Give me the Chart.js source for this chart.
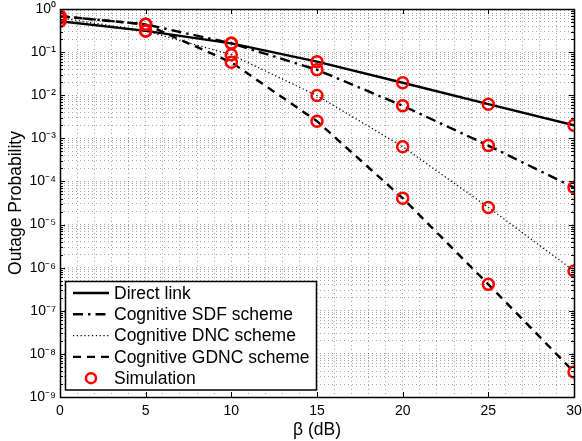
<!DOCTYPE html>
<html>
<head>
<meta charset="utf-8">
<script src="https://cdn.jsdelivr.net/npm/chart.js@4.4.0/dist/chart.umd.min.js"></script>
<style>
  html, body { margin: 0; padding: 0; background: #fff; }
  #wrap { width: 582px; height: 441px; position: relative; }
</style>
</head>
<body>
<div id="wrap"><canvas id="outage-chart" width="582" height="441"></canvas></div>
<script>
// valeurs
const betaDb = [0, 5, 10, 15, 20, 25, 30];
const directLink = [0.52, 0.31, 0.16, 0.06, 0.0195, 0.0062, 0.002];
const cognitiveSdf = [0.68, 0.44, 0.16, 0.039, 0.0057, 6.8e-4, 7.2e-5];
const cognitiveDnc = [0.62, 0.31, 0.087, 0.0098, 6.4e-4, 2.5e-5, 8.4e-7];
const cognitiveGdnc = [0.68, 0.44, 0.058, 0.0025, 4.1e-5, 4.1e-7, 3.8e-9];

const seriesLabels = ['Direct link', 'Cognitive SDF scheme', 'Cognitive DNC scheme', 'Cognitive GDNC scheme', 'Simulation'];
const xTickLabels = [0, 5, 10, 15, 20, 25, 30];
const yTickExponents = [0, -1, -2, -3, -4, -5, -6, -7, -8, -9];

const FONT = "'Liberation Sans', Arial, Helvetica, sans-serif";

const supMap = { '0': '⁰', '1': '¹', '2': '²', '3': '³', '4': '⁴', '5': '⁵', '6': '⁶', '7': '⁷', '8': '⁸', '9': '⁹', '-': '⁻' };
function powLabel(e) {
    return '10' + String(e).split('').map(c => supMap[c]).join('');
}

function toPoints(values) {
    return values.map((v, i) => ({ x: betaDb[i], y: v }));
}

// toutes les valeurs simulées (cercles rouges)
const simulationPoints = [directLink, cognitiveSdf, cognitiveDnc, cognitiveGdnc]
    .map(toPoints).reduce((acc, arr) => acc.concat(arr), []);

const lineStyles = [
    { dash: [], width: 2.4 },
    { dash: [10, 5, 2.5, 5], width: 2.4 },
    { dash: [1.2, 2.6], width: 1.3 },
    { dash: [8, 6], width: 2.4 }
];

// cadre, petites graduations internes et légende façon MATLAB
const matlabFrame = {
    id: 'matlabFrame',
    afterDraw(chart) {
        const ctx = chart.ctx;
        const a = chart.chartArea;
        const xs = chart.scales.x, ys = chart.scales.y;
        ctx.save();
        ctx.strokeStyle = '#000';
        ctx.lineWidth = 1;
        ctx.setLineDash([]);
        ctx.beginPath();
        // graduations y
        ys.ticks.forEach(t => {
            const py = Math.round(ys.getPixelForValue(t.value)) + 0.5;
            const len = t.label ? 5 : 3;
            ctx.moveTo(a.left, py); ctx.lineTo(a.left + len, py);
            ctx.moveTo(a.right, py); ctx.lineTo(a.right - len, py);
        });
        // graduations x
        xTickLabels.forEach(v => {
            const px = Math.round(xs.getPixelForValue(v)) + 0.5;
            ctx.moveTo(px, a.bottom); ctx.lineTo(px, a.bottom - 5);
            ctx.moveTo(px, a.top); ctx.lineTo(px, a.top + 5);
        });
        ctx.stroke();
        ctx.lineWidth = 1.5;
        ctx.strokeRect(Math.round(a.left) + 0.5, Math.round(a.top) + 0.5, Math.round(a.right - a.left), Math.round(a.bottom - a.top));

        // légende
        const lx = 65.5, ly = 281.5, lw = 251, lh = 108.5;
        ctx.fillStyle = '#fff';
        ctx.fillRect(lx, ly, lw, lh);
        ctx.lineWidth = 1.5;
        ctx.strokeRect(lx, ly, lw, lh);
        ctx.font = '17.5px ' + FONT;
        ctx.textBaseline = 'middle';
        ctx.textAlign = 'left';
        seriesLabels.forEach((label, i) => {
            const rowY = 293 + i * 21.3;
            if (i < 4) {
                ctx.strokeStyle = '#000';
                ctx.lineWidth = lineStyles[i].width;
                ctx.setLineDash(lineStyles[i].dash);
                ctx.beginPath();
                ctx.moveTo(73, rowY); ctx.lineTo(109, rowY);
                ctx.stroke();
            } else {
                ctx.setLineDash([]);
                ctx.strokeStyle = '#ff0000';
                ctx.lineWidth = 2.5;
                ctx.beginPath();
                ctx.arc(91, rowY, 5, 0, Math.PI * 2);
                ctx.stroke();
            }
            ctx.fillStyle = '#000';
            ctx.fillText(label, 114, rowY + 1);
        });
        ctx.restore();
    }
};

const lineData = [directLink, cognitiveSdf, cognitiveDnc, cognitiveGdnc];
const datasets = lineData.map((values, i) => ({
    label: seriesLabels[i],
    data: toPoints(values),
    borderColor: '#000',
    borderWidth: lineStyles[i].width,
    borderDash: lineStyles[i].dash,
    pointRadius: 0,
    fill: false,
    tension: 0,
    order: 2
}));
datasets.push({
    label: seriesLabels[4],
    data: simulationPoints,
    showLine: false,
    pointRadius: 5.5,
    pointBorderWidth: 2.5,
    pointBorderColor: '#ff0000',
    pointBackgroundColor: 'rgba(0,0,0,0)',
    order: 1
});

const gridStyle = {
    color: 'rgba(0,0,0,0.35)',
    lineWidth: 1,
    drawTicks: false
};

var ctx = document.getElementById('outage-chart').getContext('2d');
var myChart = new Chart(ctx, {
    type: 'line',
    data: { datasets: datasets },
    plugins: [matlabFrame],
    options: {
        responsive: false,
        animation: false,
        layout: { padding: { left: 6, right: 7, top: 9, bottom: 0 } },
        plugins: {
            legend: { display: false },
            tooltip: { enabled: false }
        },
        scales: {
            x: {
                type: 'linear',
                min: 0,
                max: 30,
                afterBuildTicks: function (scale) {
                    const ticks = [];
                    for (let v = 0; v <= 30; v++) ticks.push({ value: v });
                    scale.ticks = ticks;
                },
                afterFit: function (scale) {
                    scale.height = 44;
                    scale.paddingLeft = 0;
                    scale.paddingRight = 0;
                },
                ticks: {
                    autoSkip: false,
                    maxRotation: 0,
                    padding: 6,
                    color: '#000',
                    font: { family: FONT, size: 14 },
                    callback: function (v) { return xTickLabels.indexOf(v) >= 0 ? String(v) : ''; }
                },
                grid: gridStyle,
                border: { display: false, dash: [1, 3] },
                title: {
                    display: true,
                    text: 'β (dB)',
                    color: '#000',
                    font: { family: FONT, size: 17.5 },
                    padding: { top: 0, bottom: 0 }
                }
            },
            y: {
                type: 'logarithmic',
                min: 1e-9,
                max: 1,
                afterBuildTicks: function (scale) {
                    const ticks = [];
                    for (let e = -9; e < 0; e++) {
                        for (let k = 1; k <= 9; k++) ticks.push({ value: k * Math.pow(10, e), major: k === 1 });
                    }
                    ticks.push({ value: 1, major: true });
                    scale.ticks = ticks;
                },
                afterFit: function (scale) {
                    scale.width = 54;
                    scale.paddingTop = 0;
                    scale.paddingBottom = 0;
                },
                ticks: {
                    autoSkip: false,
                    padding: 4,
                    color: '#000',
                    font: { family: FONT, size: 14 },
                    callback: function (v) {
                        const e = Math.round(Math.log10(v));
                        if (Math.abs(v - Math.pow(10, e)) / v < 1e-6 && yTickExponents.indexOf(e) >= 0) return powLabel(e);
                        return '';
                    }
                },
                grid: gridStyle,
                border: { display: false, dash: [1, 3] },
                title: {
                    display: true,
                    text: 'Outage Probability',
                    color: '#000',
                    font: { family: FONT, size: 17.5 },
                    padding: { top: 0, bottom: 2 }
                }
            }
        }
    }
});
</script>
</body>
</html>
